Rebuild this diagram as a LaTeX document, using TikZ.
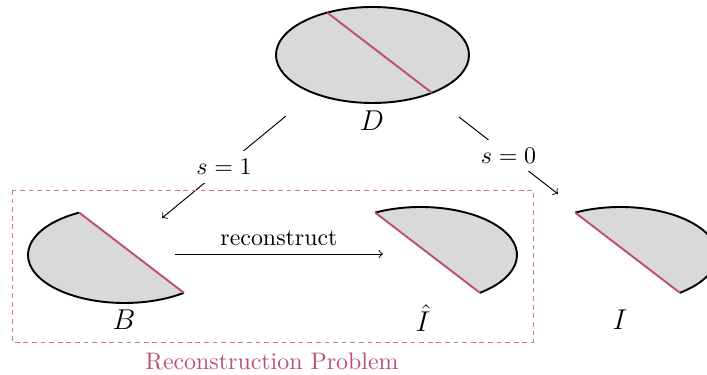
\documentclass[tikz,border=0pt]{standalone}
\usepackage{amsmath}
\definecolor{chordred}{RGB}{189,80,106}
\tikzset{
  piece/.style={fill=black!15},
  rim/.style={thick},
  cut/.style={thick, draw=chordred},
  boxline/.style={draw=chordred!75, dash pattern=on 2pt off 1.6pt},
}
\begin{document}
\begin{tikzpicture}[x=0.4185pt, y=0.4185pt]
  \useasboundingbox (0,0) rectangle (707,375);
  \clip (0,0) rectangle (707,375);
  % full disc D
  \draw[rim, piece] (372.5,320) ellipse [x radius=96.5, y radius=48];
  \draw[cut] (372.5,320) ++({96.5*cos(118)},{48*sin(118)}) -- ++({96.5*(cos(-52)-cos(118))},{48*(sin(-52)-sin(118))});
  \node[font=\large] (D) at (372,254) {$D$};
  % left half B
  \fill[piece] (124.5,120) ++({96.5*cos(118)},{48*sin(118)}) arc[start angle=118, end angle=308, x radius=96.5, y radius=48] -- cycle;
  \draw[rim] (124.5,120) ++({96.5*cos(118)},{48*sin(118)}) arc[start angle=118, end angle=308, x radius=96.5, y radius=48];
  \draw[cut] (124.5,120) ++({96.5*cos(118)},{48*sin(118)}) -- ++({96.5*(cos(-52)-cos(118))},{48*(sin(-52)-sin(118))});
  \node[font=\large] (B) at (124,55) {$B$};
  % right half, reconstructed
  \fill[piece] (420.5,120) ++({96.5*cos(-52)},{48*sin(-52)}) arc[start angle=-52, end angle=118, x radius=96.5, y radius=48] -- cycle;
  \draw[rim] (420.5,120) ++({96.5*cos(-52)},{48*sin(-52)}) arc[start angle=-52, end angle=118, x radius=96.5, y radius=48];
  \draw[cut] (420.5,120) ++({96.5*cos(118)},{48*sin(118)}) -- ++({96.5*(cos(-52)-cos(118))},{48*(sin(-52)-sin(118))});
  \node[font=\large] (Ihat) at (423,57) {$\hat{I}$};
  % right half I
  \fill[piece] (620.5,120) ++({96.5*cos(-52)},{48*sin(-52)}) arc[start angle=-52, end angle=118, x radius=96.5, y radius=48] -- cycle;
  \draw[rim] (620.5,120) ++({96.5*cos(-52)},{48*sin(-52)}) arc[start angle=-52, end angle=118, x radius=96.5, y radius=48];
  \draw[cut] (620.5,120) ++({96.5*cos(118)},{48*sin(118)}) -- ++({96.5*(cos(-52)-cos(118))},{48*(sin(-52)-sin(118))});
  \node[font=\large] (I) at (620,55) {$I$};
  % branches
  \coordinate (dl) at (286,259); \coordinate (bt) at (162,157);
  \coordinate (dr) at (459,258); \coordinate (it) at (558,181);
  \draw[->] (dl) -- node[fill=white] (s1) {$s=1$} (bt);
  \draw[->] (dr) -- node[fill=white] (s0) {$s=0$} (it);
  \coordinate (ra) at (175,121); \coordinate (rb) at (383,121);
  \draw[->] (ra) -- node[above] (rec) {reconstruct} (rb);
  % problem box
  \draw[boxline] (12,185) rectangle (533,33);
  \node[text=chordred] (prob) at (272,14) {Reconstruction Problem};
\end{tikzpicture}
\end{document}
